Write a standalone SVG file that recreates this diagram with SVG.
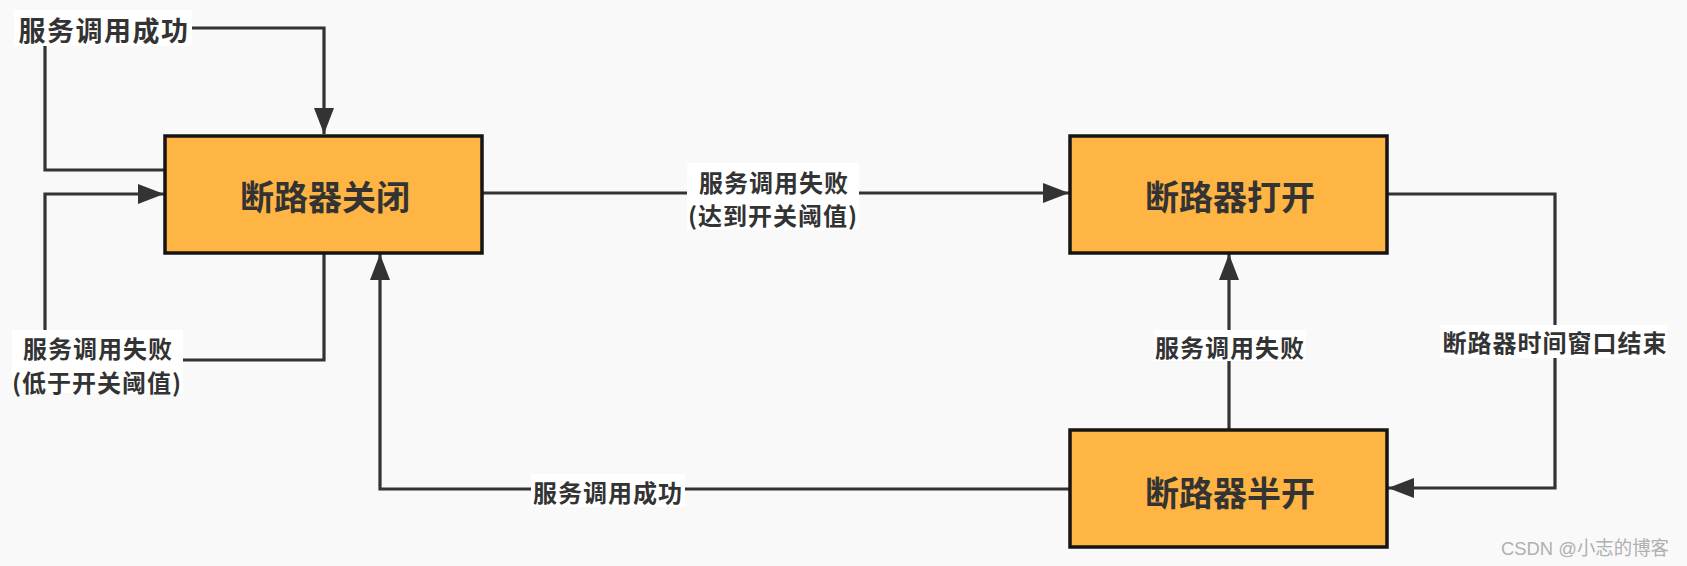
<svg xmlns="http://www.w3.org/2000/svg" width="1687" height="566" viewBox="0 0 1687 566">
<style>
.bg{fill:#f9f9f9}
.box{fill:#feb543;stroke:#151515;stroke-width:3.5}
.bt{font-family:"Noto Sans CJK SC","Noto Sans",sans-serif;font-weight:bold;font-size:34px;fill:#333;text-anchor:middle}
.conn{fill:none;stroke:#333;stroke-width:3.2}
.lb{fill:#ffffff}
.lt{font-family:"Noto Sans CJK SC","Noto Sans",sans-serif;font-weight:bold;font-size:24px;fill:#333;text-anchor:middle;letter-spacing:1px}
.wm{font-family:"Liberation Sans","Noto Sans CJK SC",sans-serif;font-size:19px;fill:#b0b0b0}
</style>
<defs>
<marker id="arr" markerUnits="userSpaceOnUse" markerWidth="26" markerHeight="20" refX="26" refY="10" orient="auto">
<path d="M0,0 L26,10 L0,20 z" fill="#333"/>
</marker>
</defs>
<rect class="bg" x="0" y="0" width="1687" height="566"/>
<g id="connectors">
<path class="conn" d="M165,170 H45 V28 H324 V134" marker-end="url(#arr)"/>
<path class="conn" d="M324,253 V360 H45 V194 H164" marker-end="url(#arr)"/>
<path class="conn" d="M482,193 H1069" marker-end="url(#arr)"/>
<path class="conn" d="M1387,194 H1555 V488 H1388" marker-end="url(#arr)"/>
<path class="conn" d="M1229,429 V254" marker-end="url(#arr)"/>
<path class="conn" d="M1069,489 H380 V254" marker-end="url(#arr)"/>
</g>
<g id="labels">
<rect class="lb" x="14" y="10" width="178" height="36"/>
<text class="lt" x="104" y="41" style="font-size:27px;letter-spacing:1.5px">服务调用成功</text>
<rect class="lb" x="12" y="330" width="171" height="63"/>
<text class="lt" x="98" y="358">服务调用失败</text>
<text class="lt" x="97" y="392">(低于开关阈值)</text>
<rect class="lb" x="687" y="163" width="172" height="67"/>
<text class="lt" x="774" y="192">服务调用失败</text>
<text class="lt" x="773" y="225">(达到开关阈值)</text>
<rect class="lb" x="1440" y="325" width="227" height="33"/>
<text class="lt" x="1555" y="352">断路器时间窗口结束</text>
<rect class="lb" x="1154" y="330" width="152" height="31"/>
<text class="lt" x="1230" y="357">服务调用失败</text>
<rect class="lb" x="531" y="474" width="154" height="33"/>
<text class="lt" x="608" y="502">服务调用成功</text>
</g>
<g id="node-closed">
<rect class="box" x="165" y="136" width="317" height="117"/>
<text class="bt" x="325" y="210">断路器关闭</text>
</g>
<g id="node-open">
<rect class="box" x="1070" y="136" width="317" height="117"/>
<text class="bt" x="1230" y="210">断路器打开</text>
</g>
<g id="node-halfopen">
<rect class="box" x="1070" y="430" width="317" height="117"/>
<text class="bt" x="1230" y="506">断路器半开</text>
</g>
<text class="wm" x="1501" y="555" textLength="168" lengthAdjust="spacingAndGlyphs">CSDN @小志的博客</text>
</svg>
